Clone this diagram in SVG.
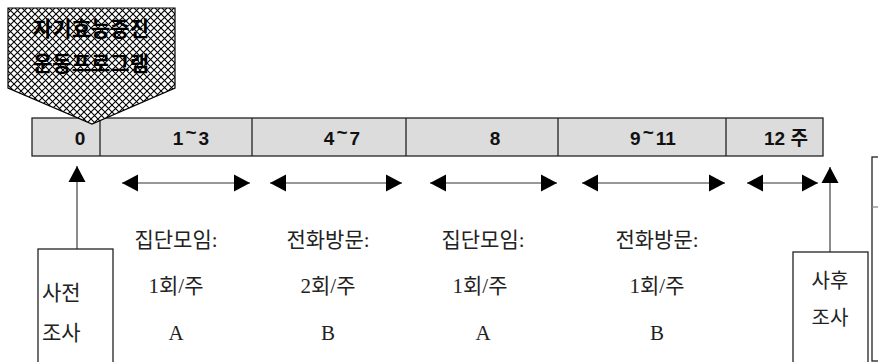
<svg xmlns="http://www.w3.org/2000/svg" width="878" height="362" viewBox="0 0 878 362">
<style>
.bar{fill:#dcdcdc;stroke:#222;stroke-width:1.3}
.div{stroke:#222;stroke-width:1.3}
.bt{font-family:"Liberation Sans","Noto Sans CJK KR",sans-serif;font-size:19px;font-weight:bold;fill:#111;text-anchor:middle}
.lt{font-family:"Liberation Serif","Noto Sans CJK KR",serif;font-size:21px;fill:#222;text-anchor:middle}
.box{fill:#fff;stroke:#222;stroke-width:1.3}
.vl{stroke:#666;stroke-width:1.5;fill:none}
.hl{stroke:#333;stroke-width:1.2;fill:none}
.pt{font-family:"Noto Sans CJK KR",sans-serif;font-size:21px;font-weight:bold;fill:#000;text-anchor:middle}
</style>
<defs>
<pattern id="hatch" patternUnits="userSpaceOnUse" width="7" height="7">
<rect width="7" height="7" fill="#fff"/>
<path d="M0,0 L7,7 M7,0 L0,7" stroke="#000" stroke-width="1.1"/>
</pattern>
<marker id="ah" markerUnits="userSpaceOnUse" markerWidth="17" markerHeight="20" viewBox="0 0 17 20" refX="16" refY="10" orient="auto-start-reverse">
<path d="M0,1.5 L16,10 L0,18.5 Z" fill="#000"/>
</marker>
</defs>

<g id="timeline">
<rect class="bar" x="32" y="118" width="791" height="38"/>
<line class="div" x1="100" y1="118" x2="100" y2="156"/>
<line class="div" x1="252" y1="118" x2="252" y2="156"/>
<line class="div" x1="406" y1="118" x2="406" y2="156"/>
<line class="div" x1="558" y1="118" x2="558" y2="156"/>
<line class="div" x1="726" y1="118" x2="726" y2="156"/>
<text class="bt" x="80" y="145">0</text>
<text class="bt" x="191" y="145">1<tspan dx="2" dy="-6">~</tspan><tspan dx="2" dy="6">3</tspan></text>
<text class="bt" x="342" y="145">4<tspan dx="2" dy="-6">~</tspan><tspan dx="2" dy="6">7</tspan></text>
<text class="bt" x="495" y="145">8</text>
<text class="bt" x="653" y="145">9<tspan dx="2" dy="-6">~</tspan><tspan dx="2" dy="6">11</tspan></text>
<text class="bt" x="786" y="145">12 주</text>
</g>

<g id="program-label">
<path d="M8,8 L175,8 L175,88 L92,124 L8,88 Z" fill="url(#hatch)" stroke="#000" stroke-width="1.2"/>
<text class="pt" x="91" y="36">자기효능증진</text>
<text class="pt" x="91" y="71">운동프로그램</text>
</g>

<g id="connectors">
<line class="vl" x1="77" y1="249" x2="77" y2="166" marker-end="url(#ah)"/>
<line class="vl" x1="830" y1="252" x2="830" y2="167" marker-end="url(#ah)"/>
<line class="hl" x1="122" y1="183" x2="250" y2="183" marker-start="url(#ah)" marker-end="url(#ah)"/>
<line class="hl" x1="270" y1="183" x2="402" y2="183" marker-start="url(#ah)" marker-end="url(#ah)"/>
<line class="hl" x1="430" y1="183" x2="557" y2="183" marker-start="url(#ah)" marker-end="url(#ah)"/>
<line class="hl" x1="582" y1="183" x2="725" y2="183" marker-start="url(#ah)" marker-end="url(#ah)"/>
<line class="hl" x1="747" y1="183" x2="818" y2="183" marker-start="url(#ah)" marker-end="url(#ah)"/>
</g>

<g id="pre-survey">
<rect class="box" x="38" y="249" width="75" height="120"/>
<text class="lt" x="42" y="300" style="text-anchor:start">사전</text>
<text class="lt" x="42" y="340" style="text-anchor:start">조사</text>
</g>

<g id="post-survey">
<rect class="box" x="793" y="252" width="75" height="120"/>
<text class="lt" x="830" y="288" style="font-size:20px">사후</text>
<text class="lt" x="830" y="325" style="font-size:20px">조사</text>
</g>

<g id="side-box">
<rect class="box" x="872" y="157" width="20" height="204"/>
<line stroke="#888" stroke-width="1.3" x1="872" y1="207" x2="878" y2="207"/>
</g>

<g id="phase1">
<text class="lt" x="176" y="247">집단모임:</text>
<text class="lt" x="176" y="293">1회/주</text>
<text class="lt" x="176" y="340">A</text>
</g>
<g id="phase2">
<text class="lt" x="328" y="247">전화방문:</text>
<text class="lt" x="328" y="293">2회/주</text>
<text class="lt" x="328" y="340">B</text>
</g>
<g id="phase3">
<text class="lt" x="483" y="247">집단모임:</text>
<text class="lt" x="480" y="293">1회/주</text>
<text class="lt" x="483" y="340">A</text>
</g>
<g id="phase4">
<text class="lt" x="657" y="247">전화방문:</text>
<text class="lt" x="657" y="293">1회/주</text>
<text class="lt" x="657" y="340">B</text>
</g>
</svg>
